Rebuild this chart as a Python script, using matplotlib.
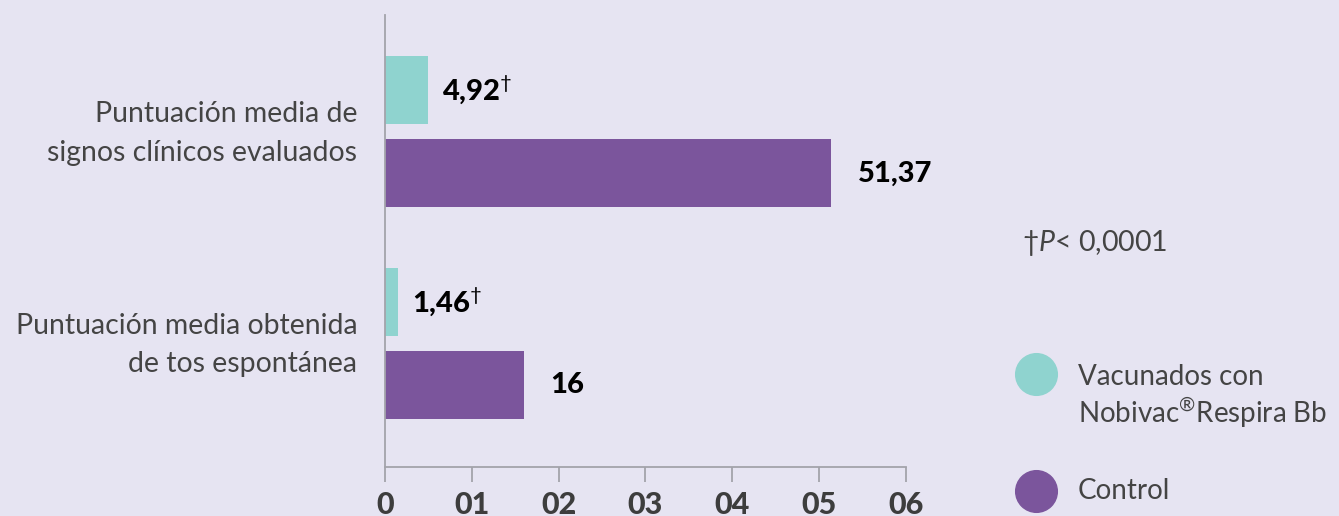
"""
Nobivac Respira Bb - puntuaciones medias (vacunados vs control)
"""
import matplotlib
matplotlib.use('Agg')
import matplotlib.pyplot as plt
import matplotlib.transforms as mtransforms
from matplotlib.lines import Line2D

plt.rcParams['font.family'] = ['Lato', 'DejaVu Sans']
plt.rcParams['mathtext.fontset'] = 'custom'
plt.rcParams['mathtext.rm'] = 'Lato'
plt.rcParams['mathtext.it'] = 'Lato:italic'
plt.rcParams['mathtext.bf'] = 'Lato:bold'

BG = '#e6e4f2'
TEAL = '#8fd3cf'
PURPLE = '#7b559c'
AXIS = '#a3a3ab'
TXT = '#444444'

# datos
categorias = ['Puntuación media de\nsignos clínicos evaluados',
              'Puntuación media obtenida\nde tos espontánea']
vacunados = [4.92, 1.46]
control = [51.37, 16]
etq_vacunados = ['4,92', '1,46']
etq_control = ['51,37', '16']
xticks = [0, 10, 20, 30, 40, 50, 60]
xtick_labels = ['0', '01', '02', '03', '04', '05', '06']

fig = plt.figure(figsize=(13.39, 5.16), dpi=100)
fig.patch.set_facecolor(BG)
ax = fig.add_axes([0.2875, 0.0950, 0.3891, 0.8759])
ax.set_facecolor(BG)

pos = [0, 1]
h = 0.322
off = 0.197
ax.barh([p - off for p in pos], vacunados, height=h, color=TEAL)
ax.barh([p + off for p in pos], control, height=h, color=PURPLE)

# etiquetas de valor
for p, v, t in zip(pos, vacunados, etq_vacunados):
    ax.annotate(t + r'$^{\dagger}$', xy=(v, p - off), xytext=(10, 0),
                textcoords='offset points', va='center', ha='left',
                fontsize=21, fontweight='black', color='black')
for p, v, t in zip(pos, control, etq_control):
    ax.annotate(t, xy=(v, p + off), xytext=(19, 0),
                textcoords='offset points', va='center', ha='left',
                fontsize=21, fontweight='black', color='black')

ax.set_xlim(0, 60)
ax.set_ylim(1.585, -0.552)
ax.set_xticks(xticks)
ax.set_xticklabels(xtick_labels, fontsize=22, fontweight='black', color='#3d3d3d')
ax.set_yticks(pos)
ax.set_yticklabels(categorias, fontsize=20.4, color=TXT, linespacing=1.6)
ax.tick_params(axis='x', length=11, width=1.3, color=AXIS, pad=6)
ax.tick_params(axis='y', length=0, pad=20)
# subir un poco las etiquetas de categoria
shift = mtransforms.ScaledTranslation(0, 7 / 100, fig.dpi_scale_trans)
for lab in ax.get_yticklabels():
    lab.set_horizontalalignment('right')
    lab.set_transform(lab.get_transform() + shift)

ax.spines['top'].set_visible(False)
ax.spines['right'].set_visible(False)
ax.spines['left'].set_color(AXIS)
ax.spines['bottom'].set_color(AXIS)
ax.spines['left'].set_linewidth(1.3)
ax.spines['bottom'].set_linewidth(1.3)

# nota y leyenda
fig.text(1022 / 1339, 1 - 243 / 516, r'$\dagger$$\it{P}$< 0,0001', fontsize=20.5,
         color=TXT, va='center', ha='left')
for y, c in [(374, TEAL), (491, PURPLE)]:
    fig.add_artist(Line2D([1036 / 1339], [1 - y / 516], marker='o', markersize=30,
                          color=c, transform=fig.transFigure))
fig.text(1078 / 1339, 1 - 377 / 516, 'Vacunados con', fontsize=20, color=TXT,
         va='center', ha='left')
fig.text(1078 / 1339, 1 - 413 / 516, r'Nobivac$^{\circledR}$Respira Bb', fontsize=20,
         color=TXT, va='center', ha='left')
fig.text(1078 / 1339, 1 - 491 / 516, 'Control', fontsize=20, color=TXT,
         va='center', ha='left')

plt.savefig('out.png', dpi=100, facecolor=BG)
plt.close()
